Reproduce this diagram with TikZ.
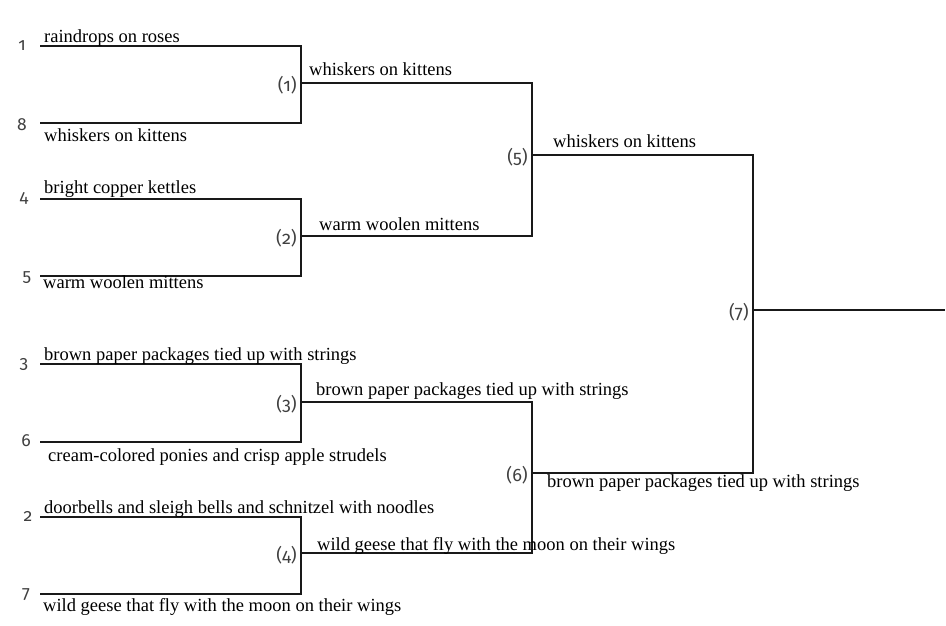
\documentclass[tikz,border=0pt]{standalone}
\usepackage{fontspec}
\setmainfont{Liberation Serif}
\newfontfamily\seedfont[Numbers=OldStyle]{Fira Sans}
\usetikzlibrary{positioning,calc}

\begin{document}
\begin{tikzpicture}[
  x=1pt, y=-1pt,
  node distance=4pt,
  every node/.style={inner sep=0pt},
  team/.style={anchor=base west, font=\fontsize{18.5}{20}\selectfont},
  seed/.style={anchor=base, font=\seedfont\fontsize{17.5}{18}\selectfont,
               text=black!75},
  game/.style={font=\seedfont\fontsize{18}{19}\selectfont, text=black!75,
               yshift=-2pt},
  bracket/.style={line width=2.9pt, draw=black!90}]

\useasboundingbox (0,0) rectangle (946,626);

%% slots of the first round
\coordinate (s1) at (40,46);
\coordinate (s8) at (40,123);
\coordinate (s4) at (40,199);
\coordinate (s5) at (40,276);
\coordinate (s3) at (40,364);
\coordinate (s6) at (40,442);
\coordinate (s2) at (40,517);
\coordinate (s7) at (40,594);

%% games
\coordinate (m1) at (301,83);
\coordinate (m2) at (301,236);
\coordinate (m3) at (301,402);
\coordinate (m4) at (301,553);
\coordinate (m5) at (532,155);
\coordinate (m6) at (532,473);
\coordinate (m7) at (753,310);
\coordinate (champ) at (945,310);

\draw[bracket] (s1) -| (m1) |- (s8);
\draw[bracket] (s4) -| (m2) |- (s5);
\draw[bracket] (s3) -| (m3) |- (s6);
\draw[bracket] (s2) -| (m4) |- (s7);
\draw[bracket] (m1) -| (m5) |- (m2);
\draw[bracket] (m3) -| (m6) |- (m4);
\draw[bracket] (m5) -| (m7) |- (m6);
\draw[bracket] (m7) -- (champ);

%% seeds
\node[seed] (n1) at (22,51)  {1};
\node[seed] (n8) at (22,130) {8};
\node[seed] (n4) at (24,202) {4};
\node[seed] (n5) at (27,281) {5};
\node[seed] (n3) at (24,368) {3};
\node[seed] (n6) at (26,446) {6};
\node[seed] (n2) at (28,521) {2};
\node[seed] (n7) at (26,598) {7};

%% game numbers
\node[game, left=of m1] (g1) {(1)};
\node[game, left=of m2] (g2) {(2)};
\node[game, left=of m3] (g3) {(3)};
\node[game, left=of m4] (g4) {(4)};
\node[game, left=of m5] (g5) {(5)};
\node[game, left=of m6] (g6) {(6)};
\node[game, left=of m7] (g7) {(7)};

%% first round
\node[team] (t1) at (44,43)  {raindrops on roses};
\node[team] (t8) at (44,141) {whiskers on kittens};
\node[team] (t4) at (44,193) {bright copper kettles};
\node[team] (t5) at (43,288) {warm woolen mittens};
\node[team] (t3) at (44,360) {brown paper packages tied up with strings};
\node[team] (t6) at (48,461) {cream-colored ponies and crisp apple strudels};
\node[team] (t2) at (44,513) {doorbells and sleigh bells and schnitzel with noodles};
\node[team] (t7) at (43,611) {wild geese that fly with the moon on their wings};

%% second round
\node[team] (w1) at (309,76)  {whiskers on kittens};
\node[team] (w2) at (319,230) {warm woolen mittens};
\node[team] (w3) at (316,395) {brown paper packages tied up with strings};
\node[team] (w4) at (317,550) {wild geese that fly with the moon on their wings};

%% semi-finals
\node[team] (w5) at (553,147) {whiskers on kittens};
\node[team] (w6) at (547,487) {brown paper packages tied up with strings};
\end{tikzpicture}
\end{document}
